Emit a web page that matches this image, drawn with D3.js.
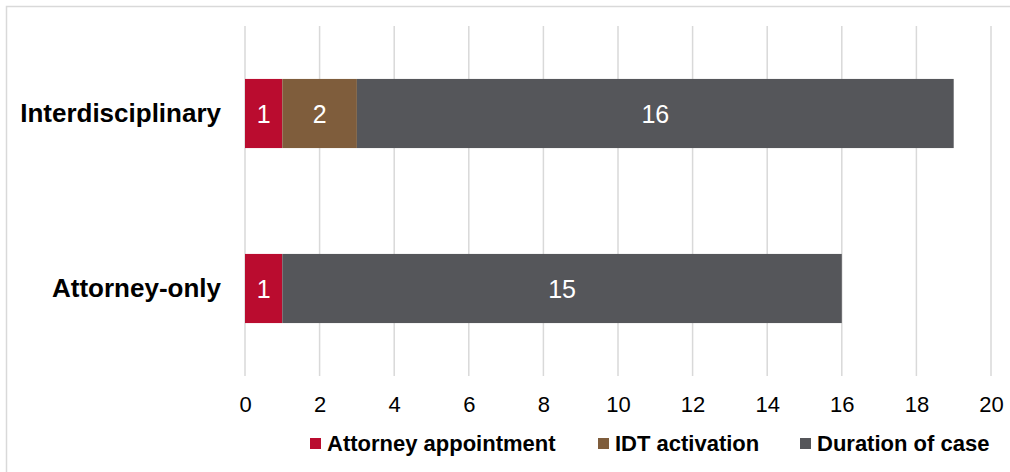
<!DOCTYPE html>
<html>
<head>
<meta charset="utf-8">
<script src="https://cdn.jsdelivr.net/npm/d3@7"></script>
<style>
  body { margin: 0; background: #fff; }
  svg text { font-family: "Liberation Sans", Arial, sans-serif; }
</style>
</head>
<body>
<div id="chart"></div>
<script>
const categories = ['Interdisciplinary', 'Attorney-only'];
const seriesNames = ['Attorney appointment', 'IDT activation', 'Duration of case'];
const attorneyAppointment = [1, 1];
const idtActivation = [2, 0];
const durationOfCase = [16, 15];
const xTicks = [0, 2, 4, 6, 8, 10, 12, 14, 16, 18, 20];
const colors = ['#ba0c2f', '#7f5d3c', '#55565a'];

const width = 1010, height = 472;
const margin = { top: 26, right: 19, bottom: 96, left: 245 };

const svg = d3.select('#chart').append('svg')
  .attr('width', width)
  .attr('height', height);

// chart border (right and bottom edges fall outside the picture)
svg.append('rect')
  .attr('x', 6.5).attr('y', 6.5)
  .attr('width', width + 10).attr('height', height + 10)
  .attr('fill', 'none')
  .attr('stroke', '#d9d9d9')
  .attr('stroke-width', 1.5);

const x = d3.scaleLinear()
  .domain([0, 20])
  .range([margin.left, width - margin.right]);

const y = d3.scaleBand()
  .domain(categories)
  .range([margin.top, height - margin.bottom])
  .paddingInner(0.605)
  .paddingOuter(0.3025);

// gridlines
svg.append('g')
  .selectAll('line')
  .data(xTicks)
  .join('line')
  .attr('x1', d => x(d)).attr('x2', d => x(d))
  .attr('y1', margin.top).attr('y2', height - margin.bottom)
  .attr('stroke', '#d9d9d9')
  .attr('stroke-width', 1.5);

// x axis labels
const xAxis = d3.axisBottom(x).tickValues(xTicks).tickSize(0).tickPadding(20);
svg.append('g')
  .attr('transform', `translate(0,${height - margin.bottom})`)
  .call(xAxis)
  .call(g => g.select('.domain').remove())
  .selectAll('text')
  .attr('font-size', 22)
  .attr('fill', '#000')
  .style('font-family', '"Liberation Sans", Arial, sans-serif');

// category labels
const yAxis = d3.axisLeft(y).tickSize(0).tickPadding(24);
svg.append('g')
  .attr('transform', `translate(${margin.left},0)`)
  .call(yAxis)
  .call(g => g.select('.domain').remove())
  .selectAll('text')
  .attr('font-size', 26)
  .attr('font-weight', 'bold')
  .attr('fill', '#000')
  .style('font-family', '"Liberation Sans", Arial, sans-serif');

// stacked data
const rows = categories.map((c, i) => ({
  category: c,
  'Attorney appointment': attorneyAppointment[i],
  'IDT activation': idtActivation[i],
  'Duration of case': durationOfCase[i]
}));
const stacked = d3.stack().keys(seriesNames)(rows);

const layers = svg.append('g')
  .selectAll('g')
  .data(stacked)
  .join('g')
  .attr('fill', (d, i) => colors[i]);

layers.selectAll('rect')
  .data(d => d.filter(s => s[1] - s[0] > 0))
  .join('rect')
  .attr('x', d => x(d[0]))
  .attr('y', d => y(d.data.category))
  .attr('width', d => x(d[1]) - x(d[0]))
  .attr('height', y.bandwidth());

layers.selectAll('text')
  .data(d => d.filter(s => s[1] - s[0] > 0))
  .join('text')
  .attr('x', d => (x(d[0]) + x(d[1])) / 2)
  .attr('y', d => y(d.data.category) + y.bandwidth() / 2)
  .attr('dy', '0.36em')
  .attr('text-anchor', 'middle')
  .attr('fill', '#fff')
  .attr('font-size', 25)
  .text(d => d[1] - d[0]);

// legend
const legendX = [310, 598, 800];
const legend = svg.append('g')
  .selectAll('g')
  .data(seriesNames)
  .join('g')
  .attr('transform', (d, i) => `translate(${legendX[i]},438)`);

legend.append('rect')
  .attr('width', 11).attr('height', 11)
  .attr('fill', (d, i) => colors[i]);

legend.append('text')
  .attr('x', 17)
  .attr('y', 5.5)
  .attr('dy', '0.36em')
  .attr('font-size', 22)
  .attr('font-weight', 'bold')
  .attr('fill', '#000')
  .text(d => d);
</script>
</body>
</html>
